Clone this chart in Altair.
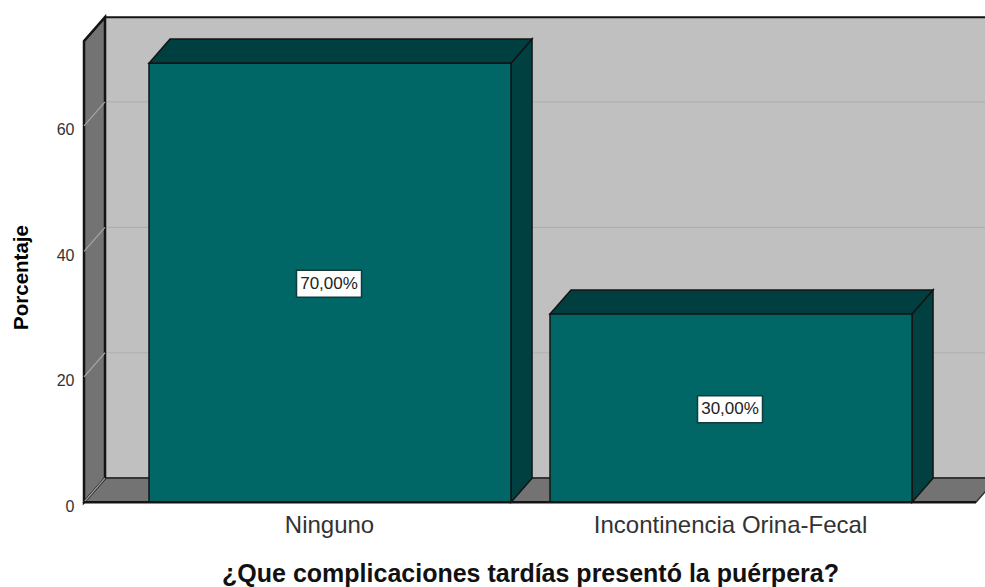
import altair as alt
import pandas as pd

# Survey results
categories = ["Ninguno", "Incontinencia Orina-Fecal"]
percentages = [70.0, 30.0]
value_labels = ["70,00%", "30,00%"]
y_ticks = [0, 20, 40, 60]

# Scale set-up: one x unit is the spacing between two categories
X_MIN, X_MAX = -0.6135, 1.6334
Y_MAX = 78.47
WALL_TOP = 73.5
DEPTH_X = 0.0524
DEPTH_Y = 3.83
HALF_BAR = 0.4514
FLOOR_END = 1.611

FRONT = "#006666"
TOP = "#003f3f"
SIDE = "#004040"
WALL = "#737373"
BACK = "#c0c0c0"
EDGE = "#141414"
SANS = "Liberation Sans"

x_scale = alt.Scale(domain=[X_MIN, X_MAX], nice=False, zero=False)
y_scale = alt.Scale(domain=[-0.6, Y_MAX], nice=False, zero=False)


def face(rows, fill, stroke=EDGE, width=1.5):
    """Filled polygon from rows of (x, upper, lower)."""
    frame = pd.DataFrame(rows, columns=["x", "upper", "lower"])
    return alt.Chart(frame).mark_area(
        fill=fill, stroke=stroke, strokeWidth=width, opacity=1, clip=False
    ).encode(
        x=alt.X("x:Q", scale=x_scale, axis=None),
        y=alt.Y("upper:Q", scale=y_scale, axis=None),
        y2="lower:Q",
    )


layers = []

# Axes carried by a transparent layer
x_expr = " : ".join(f"datum.value == {i} ? '{c}'" for i, c in enumerate(categories)) + " : ''"
axes = pd.DataFrame({"x": [0, 1], "y": [0, 0]})
layers.append(alt.Chart(axes).mark_point(opacity=0).encode(
    x=alt.X("x:Q", scale=x_scale, axis=alt.Axis(
        values=[0, 1], labelExpr=x_expr, domain=False, ticks=False, grid=False,
        labelFont=SANS, labelFontSize=24, labelColor="#333333", labelPadding=7,
        labelLimit=500, labelOffset=-1,
        title="¿Que complicaciones tardías presentó la puérpera?",
        titleFont=SANS, titleFontSize=25, titleFontWeight="bold", titleColor="#111111",
        titleX=446, titleY=55)),
    y=alt.Y("y:Q", scale=y_scale, axis=alt.Axis(
        values=y_ticks, domain=False, ticks=False, grid=False,
        labelFont=SANS, labelFontSize=16, labelColor="#333333", labelPadding=10,
        labelOffset=4,
        title="Porcentaje",
        titleFont=SANS, titleFontSize=20.5, titleFontWeight="bold", titleColor="#000000",
        titleX=-53, titleY=267))))

# Back wall, floor and left wall
layers.append(face([(X_MIN + DEPTH_X, WALL_TOP + DEPTH_Y, DEPTH_Y),
                    (X_MAX + 0.1, WALL_TOP + DEPTH_Y, DEPTH_Y)], BACK, width=2))

grid_back = pd.DataFrame({"v": [t + DEPTH_Y for t in y_ticks[1:]],
                          "a": X_MIN + DEPTH_X, "b": X_MAX})
layers.append(alt.Chart(grid_back).mark_rule(color="#b0b0b0", strokeWidth=1.2).encode(
    x=alt.X("a:Q", scale=x_scale, axis=None), x2="b:Q",
    y=alt.Y("v:Q", scale=y_scale, axis=None)))

layers.append(face([(X_MIN, 0, 0),
                    (X_MIN + DEPTH_X, DEPTH_Y, 0),
                    (FLOOR_END, DEPTH_Y, 0),
                    (FLOOR_END + DEPTH_X, DEPTH_Y, DEPTH_Y)], WALL, stroke="#333333", width=1.5))

layers.append(face([(X_MIN, WALL_TOP, 0),
                    (X_MIN + DEPTH_X, WALL_TOP + DEPTH_Y, DEPTH_Y)], WALL, width=2.5))

# Wall gridlines running from the axis to the back wall
diag = pd.DataFrame([{"x": X_MIN + o * DEPTH_X, "y": t + o * DEPTH_Y, "t": t}
                     for t in y_ticks for o in (0, 1)])
layers.append(alt.Chart(diag).mark_line(color="#a6a6a6", strokeWidth=1.2).encode(
    x=alt.X("x:Q", scale=x_scale, axis=None),
    y=alt.Y("y:Q", scale=y_scale, axis=None),
    detail="t:N"))

# Bars with their top and side faces
for i, v in enumerate(percentages):
    x0, x1 = i - HALF_BAR, i + HALF_BAR
    layers.append(face([(x1, v, 0), (x1 + DEPTH_X, v + DEPTH_Y, DEPTH_Y)], SIDE))
    layers.append(face([(x0, v, v), (x0 + DEPTH_X, v + DEPTH_Y, v),
                        (x1, v + DEPTH_Y, v), (x1 + DEPTH_X, v + DEPTH_Y, v + DEPTH_Y)], TOP))
    layers.append(face([(x0, v, 0), (x1, v, 0)], FRONT))

# Front edge of the floor in front of the bar bases
front_edge = pd.DataFrame({"a": [X_MIN], "b": [FLOOR_END], "v": [0]})
layers.append(alt.Chart(front_edge).mark_rule(color=EDGE, strokeWidth=2.5).encode(
    x=alt.X("a:Q", scale=x_scale, axis=None), x2="b:Q",
    y=alt.Y("v:Q", scale=y_scale, axis=None)))

# Value labels in white boxes at mid-height of each bar
labels = pd.DataFrame({"i": list(range(len(categories))),
                       "mid": [v / 2 for v in percentages],
                       "label": value_labels})
layers.append(alt.Chart(labels).mark_rect(
    width=65, height=27, fill="white", stroke="#123c3c", strokeWidth=1.5, xOffset=-1, yOffset=1
).encode(x=alt.X("i:Q", scale=x_scale, axis=None),
         y=alt.Y("mid:Q", scale=y_scale, axis=None)))
layers.append(alt.Chart(labels).mark_text(
    font=SANS, fontSize=17, color="#222222", align="center", baseline="middle", dx=-1, dy=1
).encode(x=alt.X("i:Q", scale=x_scale, axis=None),
         y=alt.Y("mid:Q", scale=y_scale, axis=None),
         text="label:N"))

chart = alt.layer(*layers).resolve_axis(x="independent", y="independent").properties(
    width=901, height=496,
    padding={"left": 84, "top": 10, "right": 0, "bottom": 81},
    autosize=alt.AutoSizeParams(type="none"),
    background="white",
).configure_view(stroke=None)

chart.save("out.html", embed_options={"renderer": "svg", "actions": False})
